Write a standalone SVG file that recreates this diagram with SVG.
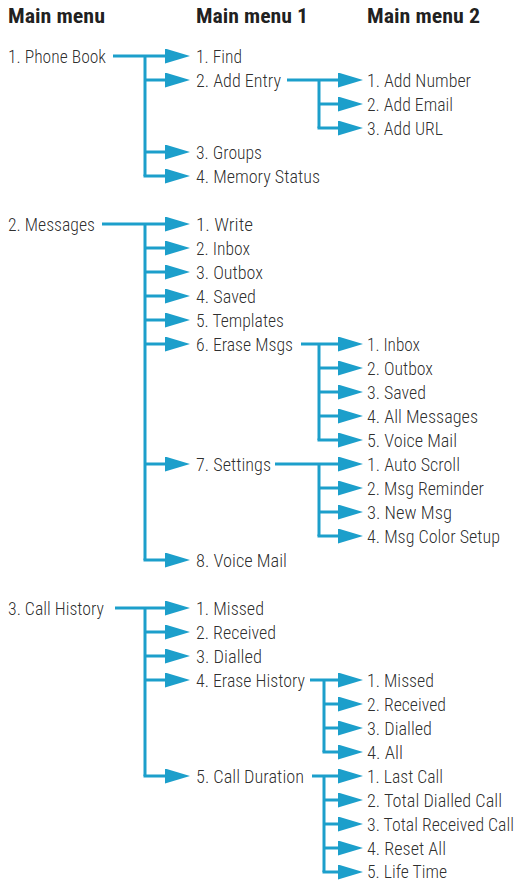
<svg xmlns="http://www.w3.org/2000/svg" width="518" height="882" viewBox="0 0 518 882">
<defs>
<marker id="arr" markerUnits="userSpaceOnUse" markerWidth="25" markerHeight="15" viewBox="0 0 25 15" refX="13" refY="7.5" orient="auto">
<path d="M0,0 L25,7.5 L0,15 z" fill="#1c9fcb"/>
</marker>
<style>
text{font-family:"Roboto Condensed","Liberation Sans Narrow","DejaVu Sans Condensed",Roboto,"Liberation Sans",sans-serif;font-stretch:condensed;font-weight:300;font-size:18px;fill:#2a2a2a;fill-opacity:0.99;}
.h{font-weight:bold;font-size:21px;fill:#1a1a1a;}
.c path{fill:none;stroke:#1c9fcb;stroke-width:3;stroke-linejoin:miter;}
.a{marker-end:url(#arr);}
</style>
</defs>
<rect width="518" height="882" fill="#fff"/>
<g id="headers">
<text class="h" x="8" y="23" textLength="97" lengthAdjust="spacingAndGlyphs">Main menu</text>
<text class="h" x="196" y="23" textLength="112" lengthAdjust="spacingAndGlyphs">Main menu 1</text>
<text class="h" x="367" y="23" textLength="113" lengthAdjust="spacingAndGlyphs">Main menu 2</text>
</g>
<g class="c" id="connectors">
<path class="a" d="M113,56 H178"/>
<path d="M145,56 V176"/>
<path class="a" d="M145,80 H178"/>
<path class="a" d="M145,152 H178"/>
<path class="a" d="M143.5,176 H178"/>
<path class="a" d="M287,80 H351"/>
<path d="M319,80 V128"/>
<path class="a" d="M319,104 H351"/>
<path class="a" d="M317.5,128 H351"/>
<path class="a" d="M102,224 H178"/>
<path d="M145,224 V560"/>
<path class="a" d="M145,248 H178"/>
<path class="a" d="M145,272 H178"/>
<path class="a" d="M145,296 H178"/>
<path class="a" d="M145,320 H178"/>
<path class="a" d="M145,344 H178"/>
<path class="a" d="M145,464 H178"/>
<path class="a" d="M143.5,560 H178"/>
<path class="a" d="M301,344 H351"/>
<path d="M319,344 V440"/>
<path class="a" d="M319,368 H351"/>
<path class="a" d="M319,392 H351"/>
<path class="a" d="M319,416 H351"/>
<path class="a" d="M317.5,440 H351"/>
<path class="a" d="M275,464 H351"/>
<path d="M319,464 V536"/>
<path class="a" d="M319,488 H351"/>
<path class="a" d="M319,512 H351"/>
<path class="a" d="M317.5,536 H351"/>
<path class="a" d="M115,608 H178"/>
<path d="M145,608 V776"/>
<path class="a" d="M145,632 H178"/>
<path class="a" d="M145,656 H178"/>
<path class="a" d="M145,680 H178"/>
<path class="a" d="M143.5,776 H178"/>
<path class="a" d="M310,680 H351"/>
<path d="M324,680 V752"/>
<path class="a" d="M324,704 H351"/>
<path class="a" d="M324,728 H351"/>
<path class="a" d="M322.5,752 H351"/>
<path class="a" d="M312,776 H351"/>
<path d="M324,776 V872"/>
<path class="a" d="M324,800 H351"/>
<path class="a" d="M324,824 H351"/>
<path class="a" d="M324,848 H351"/>
<path class="a" d="M322.5,872 H351"/>
</g>
<g id="n-phonebook"><text x="8" y="63" textLength="98" lengthAdjust="spacingAndGlyphs">1. Phone Book</text></g>
<g id="n-find"><text x="196" y="63" textLength="46" lengthAdjust="spacingAndGlyphs">1. Find</text></g>
<g id="n-addentry"><text x="196" y="87" textLength="85" lengthAdjust="spacingAndGlyphs">2. Add Entry</text></g>
<g id="n-addnumber"><text x="367" y="87" textLength="104" lengthAdjust="spacingAndGlyphs">1. Add Number</text></g>
<g id="n-addemail"><text x="367" y="111" textLength="86" lengthAdjust="spacingAndGlyphs">2. Add Email</text></g>
<g id="n-addurl"><text x="367" y="135" textLength="76" lengthAdjust="spacingAndGlyphs">3. Add URL</text></g>
<g id="n-groups"><text x="196" y="159" textLength="66" lengthAdjust="spacingAndGlyphs">3. Groups</text></g>
<g id="n-memory"><text x="196" y="183" textLength="124" lengthAdjust="spacingAndGlyphs">4. Memory Status</text></g>

<g id="n-messages"><text x="8" y="231" textLength="87" lengthAdjust="spacingAndGlyphs">2. Messages</text></g>
<g id="n-write"><text x="196" y="231" textLength="57" lengthAdjust="spacingAndGlyphs">1. Write</text></g>
<g id="n-inbox"><text x="196" y="255" textLength="54" lengthAdjust="spacingAndGlyphs">2. Inbox</text></g>
<g id="n-outbox"><text x="196" y="279" textLength="67" lengthAdjust="spacingAndGlyphs">3. Outbox</text></g>
<g id="n-saved"><text x="196" y="303" textLength="60" lengthAdjust="spacingAndGlyphs">4. Saved</text></g>
<g id="n-templates"><text x="196" y="327" textLength="88" lengthAdjust="spacingAndGlyphs">5. Templates</text></g>
<g id="n-erasemsgs"><text x="196" y="351" textLength="97" lengthAdjust="spacingAndGlyphs">6. Erase Msgs</text></g>
<g id="n-em-inbox"><text x="367" y="351" textLength="53" lengthAdjust="spacingAndGlyphs">1. Inbox</text></g>
<g id="n-em-outbox"><text x="367" y="375" textLength="66" lengthAdjust="spacingAndGlyphs">2. Outbox</text></g>
<g id="n-em-saved"><text x="367" y="399" textLength="59" lengthAdjust="spacingAndGlyphs">3. Saved</text></g>
<g id="n-em-all"><text x="367" y="423" textLength="111" lengthAdjust="spacingAndGlyphs">4. All Messages</text></g>
<g id="n-em-voice"><text x="367" y="447" textLength="90" lengthAdjust="spacingAndGlyphs">5. Voice Mail</text></g>
<g id="n-settings"><text x="196" y="471" textLength="75" lengthAdjust="spacingAndGlyphs">7. Settings</text></g>
<g id="n-autoscroll"><text x="367" y="471" textLength="93" lengthAdjust="spacingAndGlyphs">1. Auto Scroll</text></g>
<g id="n-reminder"><text x="367" y="495" textLength="117" lengthAdjust="spacingAndGlyphs">2. Msg Reminder</text></g>
<g id="n-newmsg"><text x="367" y="519" textLength="85" lengthAdjust="spacingAndGlyphs">3. New Msg</text></g>
<g id="n-color"><text x="367" y="543" textLength="133" lengthAdjust="spacingAndGlyphs">4. Msg Color Setup</text></g>
<g id="n-voicemail"><text x="196" y="567" textLength="91" lengthAdjust="spacingAndGlyphs">8. Voice Mail</text></g>

<g id="n-callhistory"><text x="8" y="615" textLength="96" lengthAdjust="spacingAndGlyphs">3. Call History</text></g>
<g id="n-missed"><text x="196" y="615" textLength="68" lengthAdjust="spacingAndGlyphs">1. Missed</text></g>
<g id="n-received"><text x="196" y="639" textLength="80" lengthAdjust="spacingAndGlyphs">2. Received</text></g>
<g id="n-dialled"><text x="196" y="663" textLength="66" lengthAdjust="spacingAndGlyphs">3. Dialled</text></g>
<g id="n-erasehistory"><text x="196" y="687" textLength="109" lengthAdjust="spacingAndGlyphs">4. Erase History</text></g>
<g id="n-eh-missed"><text x="367" y="687" textLength="67" lengthAdjust="spacingAndGlyphs">1. Missed</text></g>
<g id="n-eh-received"><text x="367" y="711" textLength="79" lengthAdjust="spacingAndGlyphs">2. Received</text></g>
<g id="n-eh-dialled"><text x="367" y="735" textLength="65" lengthAdjust="spacingAndGlyphs">3. Dialled</text></g>
<g id="n-eh-all"><text x="367" y="759" textLength="36" lengthAdjust="spacingAndGlyphs">4. All</text></g>
<g id="n-callduration"><text x="196" y="783" textLength="108" lengthAdjust="spacingAndGlyphs">5. Call Duration</text></g>
<g id="n-lastcall"><text x="367" y="783" textLength="76" lengthAdjust="spacingAndGlyphs">1. Last Call</text></g>
<g id="n-totaldialled"><text x="367" y="807" textLength="135" lengthAdjust="spacingAndGlyphs">2. Total Dialled Call</text></g>
<g id="n-totalreceived"><text x="367" y="831" textLength="147" lengthAdjust="spacingAndGlyphs">3. Total Received Call</text></g>
<g id="n-resetall"><text x="367" y="855" textLength="79" lengthAdjust="spacingAndGlyphs">4. Reset All</text></g>
<g id="n-lifetime"><text x="367" y="878" textLength="80" lengthAdjust="spacingAndGlyphs">5. Life Time</text></g>
</svg>
